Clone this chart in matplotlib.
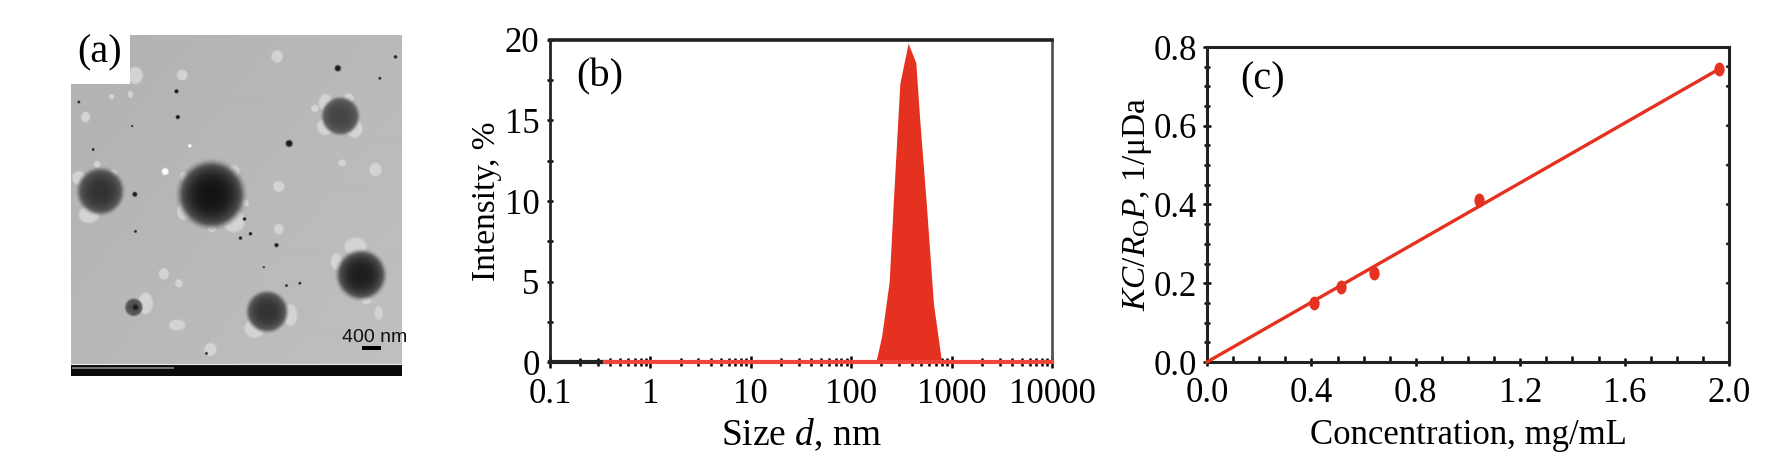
import matplotlib
matplotlib.use('Agg')
import matplotlib.pyplot as plt
from matplotlib.patches import Rectangle
from matplotlib.path import Path
from matplotlib.transforms import Affine2D
from matplotlib.ticker import FixedLocator, NullFormatter
import numpy as np

plt.rcParams['font.family'] = ['Liberation Serif', 'DejaVu Sans']
plt.rcParams['mathtext.fontset'] = 'custom'
plt.rcParams['mathtext.rm'] = 'Liberation Serif'
plt.rcParams['mathtext.it'] = 'Liberation Serif:italic'

RED = '#e5311f'
W, H = 1772, 469

# panel b, size distribution
size_nm = [176, 201, 239, 263, 305, 369, 440, 482, 557, 660, 795]
intensity = [0, 1.6, 5, 10, 17.3, 19.8, 18.6, 15, 10, 3.6, 0]
xticks_b = [0.1, 1, 10, 100, 1000, 10000]
xticklabels_b = ['0.1', '1', '10', '100', '1000', '10000']

# panel c, concentration series
conc = [0.41, 0.513, 0.638, 1.043, 1.962]
kc_rp = [0.149, 0.19, 0.225, 0.412, 0.744]
fit_x = [0.0, 1.97]
fit_y = [0.0, 0.747]

# panel a, micrograph features (x, y, radius)
dark_x = [150, 483, 870, 932, 650, 250]
dark_y = [515, 525, 290, 765, 875, 862]
dark_r = [68, 98, 55, 72, 60, 26]
dark_v = [0.20, 0.08, 0.27, 0.12, 0.20, 0.30]

light_x = [115, 85, 140, 188, 400, 550, 550, 484, 585, 400,
           825, 825, 895, 912, 915, 858, 948, 612, 720, 285, 380, 340,
           680, 395, 105, 255, 975, 685, 875, 985, 480, 385, 685, 793, 240, 183]
light_y = [585, 475, 435, 460, 575, 455, 605, 627, 550, 470,
           322, 250, 236, 328, 680, 725, 842, 925, 885, 850, 915, 762,
           112, 167, 293, 168, 450, 500, 430, 880, 988, 790, 628, 267, 225, 232]
light_rx = [30, 20, 10, 11, 20, 17, 32, 12, 10, 10,
            25, 20, 14, 24, 33, 17, 15, 30, 20, 22, 24, 15,
            17, 16, 13, 22, 18, 17, 12, 12, 18, 11, 14, 11, 8, 8]
light_ry = [25, 20, 10, 10, 24, 17, 32, 10, 10, 13,
            24, 26, 14, 26, 26, 24, 10, 28, 32, 32, 16, 17,
            18, 16, 16, 25, 20, 16, 10, 20, 20, 12, 16, 11, 10, 8]

speck_x = [862, 716, 378, 382, 253, 570, 600, 678, 128, 85, 245, 988, 1035, 255, 640, 708, 748, 468, 582, 255]
speck_y = [147, 372, 216, 293, 524, 655, 642, 676, 390, 248, 320, 177, 113, 635, 742, 797, 790, 1000, 598, 862]
speck_s = [9, 10, 6, 6, 7, 5, 5, 6, 4, 4, 3, 4, 5, 4, 3, 4, 4, 4, 5, 8]


def axes_px(left, top, right, bottom):
    return fig.add_axes([left / W, 1 - bottom / H, (right - left) / W, (bottom - top) / H])


def soft(d, width):
    t = np.clip((1 - d) / width + 0.5, 0, 1)
    return t * t * (3 - 2 * t)


fig = plt.figure(figsize=(W / 100, H / 100), dpi=100)

# (a)
ax = axes_px(71, 35, 402, 376)
yy, xx = np.mgrid[45:1068, 62:1055].astype(float)
img = np.full(xx.shape, 0.72) + 0.015 * (xx - 500) / 500 + 0.012 * (yy - 500) / 500
for x, y, rx, ry in zip(light_x, light_y, light_rx, light_ry):
    m = soft(np.hypot((xx - x) / rx, (yy - y) / ry), 0.35)
    img = img * (1 - m) + 0.83 * m
for x, y, r, v in zip(dark_x, dark_y, dark_r, dark_v):
    d = np.hypot(xx - x, yy - y) / r
    m = soft(d, 0.28)
    core = v + (0.42 - v) * np.clip(d, 0, 1) ** 3
    img = img * (1 - m) + core * m
for x, y, s in zip(speck_x, speck_y, speck_s):
    m = soft(np.hypot(xx - x, yy - y) / s, 0.7)
    img = img * (1 - m) + 0.12 * m
for x, y, s in zip([344, 418], [456, 379], [10, 5]):
    m = soft(np.hypot(xx - x, yy - y) / s, 0.6)
    img = img * (1 - m) + 1.0 * m
ax.imshow(img, cmap='gray', vmin=0, vmax=1, extent=[62, 1055, 1068, 45], aspect='auto', zorder=1)
ax.add_patch(Rectangle((62, 1036), 993, 32, color='#0a0a0a', lw=0, zorder=5))
ax.hlines(1032, 62, 1055, color='#e8e8e8', lw=0.8, zorder=5)
ax.hlines(1044, 66, 370, color='#8a8a8a', lw=1.2, zorder=6)
ax.add_patch(Rectangle((935, 979), 56, 11, color='black', lw=0, zorder=5))
ax.text(972, 952, '400 nm', family='Liberation Sans', fontsize=14, ha='center', va='center', color='#111111', zorder=7, clip_on=False)
ax.add_patch(Rectangle((62, 45), 176, 148, color='white', lw=0, zorder=6))
ax.text(147, 98, '(a)', fontsize=29, ha='center', va='center', zorder=7)
ax.set_xlim(62, 1055)
ax.set_ylim(1068, 45)
ax.axis('off')

# (b)
ax = axes_px(550, 40, 1052, 362)
ax.set_xscale('log')
ax.set_xlim(0.1, 10000)
ax.set_ylim(0, 20)
ax.plot([0.1, 0.35], [0, 0], color='#222222', lw=3, clip_on=False, zorder=3)
ax.plot([0.35, 10000], [0, 0], color='#f0453a', lw=3, clip_on=False, zorder=4)
ax.fill_between(size_nm, intensity, 0, color=RED, lw=0, zorder=3)
ax.set_xticks(xticks_b)
ax.set_xticklabels(xticklabels_b)
ax.xaxis.set_minor_locator(FixedLocator([m * 10.0 ** e for e in range(-1, 4) for m in range(2, 10)]))
ax.xaxis.set_minor_formatter(NullFormatter())
ax.set_yticks([0, 5, 10, 15, 20])
ax.set_yticks([2.5, 7.5, 12.5, 17.5], minor=True)
ax.tick_params(axis='x', which='major', direction='inout', length=9, width=1.8, labelsize=25, pad=7, zorder=6)
ax.tick_params(axis='x', which='minor', direction='inout', length=6, width=1.8, zorder=6)
ax.tick_params(axis='y', which='both', direction='inout', length=5, width=1.8, labelsize=25, pad=5)
for s in ax.spines.values():
    s.set_linewidth(2)
    s.set_color('#222222')
ax.spines['top'].set_linewidth(2.6)
ax.spines['right'].set_color('#555555')
ax.set_xlabel('Size $d$, nm', fontsize=27, labelpad=4)
ax.set_ylabel('Intensity, %', fontsize=24, labelpad=2)
ax.text(0.053, 0.884, '(b)', transform=ax.transAxes, fontsize=29, va='center')

# (c)
ax = axes_px(1207, 47, 1729, 362)
ax.set_xlim(0, 2.0)
ax.set_ylim(0, 0.8)
tall_dot = Path.unit_circle().transformed(Affine2D().scale(0.85, 1.15))
ax.plot(fit_x, fit_y, color=RED, lw=2.4, clip_on=False, zorder=3)
ax.plot(conc, kc_rp, linestyle='none', marker=tall_dot, color=RED, ms=10, mew=0, zorder=4)
ax.set_xticks([0.0, 0.4, 0.8, 1.2, 1.6, 2.0])
ax.set_xticks([0.1, 0.2, 0.3, 0.5, 0.6, 0.7, 0.9, 1.0, 1.1, 1.3, 1.4, 1.5, 1.7, 1.8, 1.9], minor=True)
ax.set_yticks([0.0, 0.2, 0.4, 0.6, 0.8])
ax.set_yticks([v / 20 for v in range(1, 16) if v % 4 != 0], minor=True)
ax.tick_params(axis='x', which='major', direction='inout', length=6, width=1.8, labelsize=25, pad=8)
ax.tick_params(axis='x', which='minor', direction='in', length=4, width=1.8)
ax.tick_params(axis='y', which='major', direction='inout', length=6, width=1.8, labelsize=25, pad=4)
ax.tick_params(axis='y', which='minor', direction='inout', length=5, width=1.8)
for v in [0.1, 0.2, 0.3, 0.4, 0.5, 0.6, 0.7, 0.75]:
    ax.annotate('', (2.0, v), (1.993, v), arrowprops=dict(arrowstyle='-', lw=2, color='#222222'))
for s in ax.spines.values():
    s.set_linewidth(2.2)
    s.set_color('#222222')
ax.set_xlabel('Concentration, mg/mL', fontsize=25, labelpad=6)
ax.set_ylabel('$KC/R_{\\mathrm{O}}P$, 1/μDa', fontsize=24, labelpad=0)
ax.text(0.063, 0.895, '(c)', transform=ax.transAxes, fontsize=29, va='center')

fig.savefig('out.png', dpi=100)
